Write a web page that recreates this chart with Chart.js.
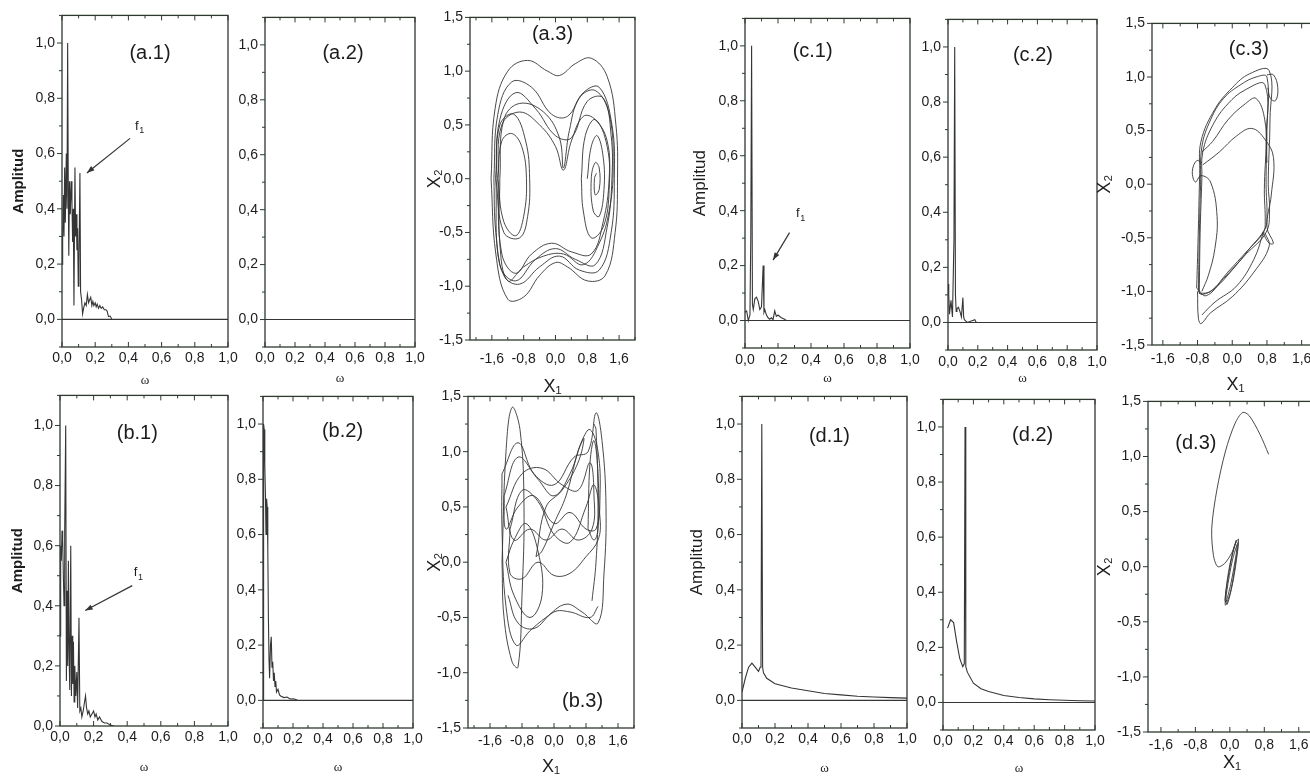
<!DOCTYPE html>
<html>
<head>
<meta charset="utf-8">
<script src="https://cdn.jsdelivr.net/npm/chart.js@4.4.0/dist/chart.umd.min.js"></script>
<style>
  body { margin: 0; background: #fff; width: 1310px; height: 780px; overflow: hidden; position: relative; }
  canvas { position: absolute; }
</style>
</head>
<body>
<script>
// ---- tick labels ----
const omegaTicks = [0, 0.2, 0.4, 0.6, 0.8, 1.0];
const amplitudeTicks = [0, 0.2, 0.4, 0.6, 0.8, 1.0];
const x1Ticks = [-1.6, -0.8, 0, 0.8, 1.6];
const x2Ticks = [-1.5, -1.0, -0.5, 0, 0.5, 1.0, 1.5];

// ---- spectra: [omega, amplitude] ----
const zeroLine = [[0, 0], [1, 0]];
const a1Spectrum = [[0,0.2],[0.004,0.3],[0.008,0.45],[0.012,0.3],[0.016,0.55],[0.02,0.35],[0.026,0.6],[0.03,0.4],
  [0.034,1.0],[0.038,0.45],[0.041,0.23],[0.045,0.5],[0.05,0.38],[0.055,0.5],[0.06,0.42],[0.064,0.28],[0.068,0.4],
  [0.072,0.05],[0.078,0.55],[0.082,0.3],[0.086,0.38],[0.09,0.25],[0.094,0.33],[0.098,0.12],[0.102,0.2],[0.108,0.53],
  [0.112,0.1],[0.118,0.07],[0.124,0.02],[0.13,0.04],[0.138,0.06],[0.146,0.05],[0.153,0.09],[0.16,0.06],[0.166,0.07],
  [0.173,0.08],[0.18,0.05],[0.186,0.065],[0.192,0.05],[0.2,0.06],[0.206,0.045],[0.212,0.055],[0.22,0.04],[0.228,0.05],
  [0.236,0.04],[0.245,0.045],[0.255,0.035],[0.265,0.035],[0.272,0.03],[0.28,0.01],[0.29,0.012],[0.3,0]];
const b1Spectrum = [[0,0.3],[0.004,0.6],[0.008,0.55],[0.012,0.65],[0.016,0.62],[0.02,0.5],[0.024,0.4],[0.028,0.65],
  [0.034,1.0],[0.038,0.15],[0.042,0.45],[0.046,0.2],[0.05,0.55],[0.054,0.25],[0.058,0.12],[0.064,0.6],[0.068,0.1],
  [0.072,0.3],[0.076,0.14],[0.08,0.28],[0.084,0.08],[0.088,0.2],[0.094,0.1],[0.1,0.18],[0.105,0.06],[0.113,0.36],
  [0.118,0.05],[0.124,0.06],[0.13,0.03],[0.138,0.05],[0.146,0.08],[0.152,0.1],[0.158,0.06],[0.165,0.04],[0.172,0.05],
  [0.18,0.03],[0.19,0.04],[0.2,0.05],[0.208,0.03],[0.215,0.04],[0.225,0.02],[0.235,0.03],[0.25,0.015],[0.265,0.01],
  [0.28,0.01],[0.3,0.003],[0.32,0]];
const b2Spectrum = [[0,0],[0.004,1.0],[0.008,0.98],[0.012,0.85],[0.016,0.75],[0.02,0.6],[0.024,0.73],[0.028,0.7],
  [0.032,0.55],[0.036,0.3],[0.04,0.15],[0.044,0.08],[0.05,0.2],[0.055,0.23],[0.06,0.12],[0.065,0.14],[0.07,0.07],
  [0.075,0.1],[0.08,0.05],[0.085,0.07],[0.09,0.03],[0.1,0.04],[0.11,0.02],[0.12,0.015],[0.14,0.01],[0.16,0.012],
  [0.18,0.005],[0.2,0.006],[0.22,0.003],[0.23,0]];
const c1Spectrum = [[0,0.03],[0.01,0.035],[0.02,0.0],[0.03,0.02],[0.035,0.3],[0.04,1.0],[0.045,0.06],[0.05,0.04],
  [0.06,0.08],[0.07,0.085],[0.08,0.07],[0.09,0.04],[0.1,0.05],[0.11,0.2],[0.115,0.03],[0.12,0.04],[0.13,0.02],
  [0.14,0.01],[0.15,0.005],[0.16,0.01],[0.17,0.003],[0.18,0.035],[0.19,0.015],[0.2,0.02],[0.22,0.01],[0.24,0.005],[0.25,0]];
const c2Spectrum = [[0,0.14],[0.005,0.1],[0.01,0.03],[0.02,0.08],[0.03,0.02],[0.04,0.3],[0.045,1.0],[0.05,0.1],
  [0.055,0.04],[0.06,0.05],[0.07,0.055],[0.08,0.04],[0.09,0.02],[0.1,0.09],[0.105,0.02],[0.11,0.01],[0.12,0.005],
  [0.13,0],[0.18,0.01],[0.19,0]];
const d1Spectrum = [[0,0.03],[0.02,0.08],[0.04,0.12],[0.06,0.135],[0.08,0.12],[0.1,0.105],[0.11,0.12],[0.115,0.13],
  [0.12,1.0],[0.125,0.12],[0.13,0.1],[0.15,0.08],[0.2,0.06],[0.3,0.045],[0.4,0.035],[0.5,0.025],[0.6,0.02],
  [0.7,0.015],[0.8,0.012],[0.9,0.01],[1.0,0.008]];
const d2Spectrum = [[0.03,0.27],[0.05,0.3],[0.07,0.29],[0.09,0.22],[0.11,0.16],[0.13,0.13],[0.14,0.14],[0.145,1.0],
  [0.15,0.13],[0.16,0.11],[0.2,0.07],[0.25,0.05],[0.3,0.04],[0.4,0.025],[0.5,0.018],[0.6,0.013],[0.7,0.01],
  [0.8,0.008],[0.9,0.006],[1.0,0.005]];

// ---- phase portraits: loops of [x1, x2] ----
const a3Loops = [
  [[-1.62,0],[-1.52,0.65],[-1.2,1.0],[-0.7,1.1],[-0.2,1.0],[0.1,0.96],[0.5,1.07],[0.9,1.12],[1.3,0.95],[1.52,0.5],[1.56,0],[1.5,-0.5],[1.25,-0.9],[0.8,-0.95],[0.3,-0.82],[0,-0.78],[-0.4,-0.9],[-0.8,-1.1],[-1.2,-1.12],[-1.5,-0.7],[-1.62,0]],
  [[-1.55,0],[-1.45,0.6],[-1.1,0.9],[-0.6,0.85],[-0.1,0.6],[0.3,0.58],[0.7,0.8],[1.1,0.85],[1.42,0.5],[1.48,0],[1.4,-0.5],[1.1,-0.85],[0.6,-0.85],[0.1,-0.72],[-0.4,-0.82],[-0.9,-0.98],[-1.3,-0.9],[-1.5,-0.5],[-1.55,0]],
  [[-1.5,0],[-1.4,0.55],[-1.0,0.8],[-0.5,0.65],[0,0.4],[0.4,0.38],[0.8,0.72],[1.2,0.75],[1.4,0.4],[1.42,0],[1.3,-0.45],[1.0,-0.8],[0.5,-0.75],[0,-0.65],[-0.5,-0.75],[-1.0,-0.95],[-1.4,-0.8],[-1.5,0]],
  [[-1.45,0],[-1.35,0.5],[-0.9,0.62],[-0.4,0.5],[0,0.3],[0.2,0.08],[0.4,0.35],[0.7,0.58],[1.0,0.55],[1.3,0.35],[1.35,0],[1.2,-0.4],[0.9,-0.7],[0.4,-0.68],[-0.1,-0.6],[-0.6,-0.7],[-1.0,-0.88],[-1.35,-0.7],[-1.45,0]],
  [[-1.4,0],[-1.3,0.55],[-0.9,0.7],[-0.3,0.62],[0.1,0.38],[0.2,0.1],[0.35,0.45],[0.6,0.75],[1.0,0.82],[1.35,0.6],[1.45,0.1],[1.35,-0.3],[1.1,-0.6],[0.7,-0.8],[0.2,-0.7],[-0.3,-0.72],[-0.8,-0.82],[-1.2,-0.95],[-1.4,-0.6],[-1.4,0]],
  [[-1.45,0],[-1.35,0.35],[-1.1,0.42],[-0.85,0.3],[-0.73,0],[-0.8,-0.35],[-1.0,-0.53],[-1.3,-0.4],[-1.45,0]],
  [[-1.5,0],[-1.4,0.5],[-1.05,0.6],[-0.75,0.35],[-0.65,0],[-0.7,-0.35],[-0.9,-0.55],[-1.3,-0.5],[-1.5,0]],
  [[0.8,0],[0.9,0.3],[1.05,0.4],[1.2,0.2],[1.22,-0.1],[1.1,-0.35],[0.95,-0.3],[0.9,0],[1.0,0.15],[1.1,0.1],[1.1,-0.1],[1.0,-0.15],[0.98,0],[1.03,0.05]],
  [[0.65,0],[0.75,0.4],[1.0,0.55],[1.3,0.3],[1.35,-0.1],[1.2,-0.45],[0.9,-0.55],[0.7,-0.3],[0.65,0]]
];
const b3Loops = [
  [[-1.3,0],[-1.2,1.0],[-1.05,1.4],[-0.85,1.2],[-0.75,0.5],[-0.8,-0.3],[-0.9,-0.95],[-1.05,-0.9],[-1.25,-0.5],[-1.3,0]],
  [[-1.3,0.8],[-0.9,1.08],[-0.5,0.8],[0,0.7],[0.5,0.95],[0.85,1.0],[1.05,1.35],[1.2,1.1],[1.3,0.5],[1.25,-0.1],[1.1,-0.55],[0.7,-0.45],[0.3,-0.38],[-0.2,-0.5],[-0.6,-0.62],[-0.95,-0.75],[-1.2,-0.4],[-1.3,0.3],[-1.3,0.8]],
  [[-1.25,0.6],[-0.9,0.95],[-0.4,0.75],[0,0.6],[0.4,0.8],[0.7,1.1],[0.9,1.2],[1.1,1.0],[1.15,0.6],[1.05,0.3],[0.8,0.3],[0.4,0.45],[0,0.35],[-0.5,0.6],[-0.9,0.5],[-1.2,0.3],[-1.25,0.6]],
  [[-1.2,0.5],[-0.8,0.8],[-0.3,0.85],[0.2,0.7],[0.6,0.65],[0.9,0.9],[1.0,0.6],[0.95,0.3],[0.6,0.2],[0.2,0.3],[-0.2,0.2],[-0.6,0.3],[-1.0,0.2],[-1.2,0.5]],
  [[-1.1,0.3],[-0.8,0.65],[-0.4,0.55],[0,0.25],[0.4,0.18],[0.8,0.5],[1.0,0.7],[1.15,0.4],[1.1,0.2],[0.8,0.05],[0.4,-0.1],[0,-0.12],[-0.4,0],[-0.8,-0.15],[-1.1,-0.1],[-1.1,0.3]],
  [[-1.2,0],[-1.0,-0.3],[-0.6,-0.5],[-0.3,-0.3],[-0.4,0.1],[-0.7,0.35],[-1.0,0.2],[-1.2,0]],
  [[-0.45,0.05],[-0.2,0.5],[0.2,0.65],[0.6,0.9],[0.75,1.12],[0.6,1.0],[0.3,0.6],[0,0.35],[-0.3,0.1],[-0.45,0.05]],
  [[0.85,0.3],[0.9,0.9],[1.0,1.1],[1.1,0.8],[1.1,0.3],[1.0,0.2],[0.85,0.3]],
  [[0.95,-0.35],[1.05,0],[1.1,0.5],[1.05,1.2],[1.0,1.25]],
  [[-1.15,-0.3],[-0.9,-0.55],[-0.5,-0.6],[0,-0.45],[0.4,-0.45],[0.9,-0.5],[1.1,-0.4]]
];
const c3Loops = [
  [[-0.78,-1.0],[-0.76,-0.5],[-0.73,0],[-0.7,0.35],[-0.5,0.6],[-0.2,0.8],[0.2,0.93],[0.55,1.0],[0.8,1.0],[0.8,0.5],[0.78,0],[0.8,-0.3],[0.75,-0.42],[0.4,-0.6],[0,-0.8],[-0.4,-0.97],[-0.7,-1.03],[-0.78,-1.0]],
  [[-0.82,-0.97],[-0.78,-0.4],[-0.75,0.1],[-0.72,0.4],[-0.4,0.7],[0,0.9],[0.4,1.03],[0.85,1.06],[0.87,0.6],[0.83,0],[0.86,-0.25],[0.78,-0.45],[0.3,-0.66],[-0.2,-0.88],[-0.6,-1.04],[-0.82,-0.97]],
  [[-0.76,-1.02],[-0.74,-0.45],[-0.7,0.05],[-0.68,0.3],[-0.45,0.55],[-0.1,0.75],[0.3,0.88],[0.75,0.93],[0.78,0.4],[0.74,-0.05],[0.76,-0.35],[0.72,-0.45],[0.35,-0.62],[-0.1,-0.82],[-0.5,-1.0],[-0.76,-1.02]],
  [[-0.7,0.3],[-0.45,0.4],[-0.1,0.6],[0.3,0.75],[0.55,0.8],[0.75,0.6],[0.8,0.2]],
  [[-0.68,0.18],[-0.3,0.3],[0.1,0.45],[0.45,0.52],[0.75,0.42],[0.95,0.25],[0.9,-0.1],[0.8,-0.4],[0.95,-0.55],[0.85,-0.55],[0.7,-0.45]],
  [[-0.7,0.2],[-0.82,0.22],[-0.92,0.12],[-0.85,0.02],[-0.72,0.08],[-0.5,0.02],[-0.35,-0.3],[-0.4,-0.6],[-0.55,-0.85],[-0.7,-1.0]],
  [[-0.8,-1.0],[-0.78,-1.25],[-0.72,-1.3],[-0.5,-1.2],[0,-1.05],[0.5,-0.82],[0.85,-0.58],[0.75,-0.45]],
  [[-0.7,-1.22],[-0.4,-1.1],[0.1,-0.95],[0.5,-0.7],[0.72,-0.45]],
  [[0.8,1.02],[0.95,1.02],[1.05,0.9],[1.0,0.78],[0.88,0.8],[0.82,0.9]]
];
const d3Loops = [
  [[0.9,1.02],[0.7,1.2],[0.45,1.37],[0.3,1.4],[0.12,1.3],[-0.1,1.05],[-0.3,0.7],[-0.42,0.35],[-0.38,0.1],[-0.28,0],[-0.12,0.03],[0.05,0.13],[0.15,0.24]],
  [[0.15,0.24],[0.0,0.02],[-0.1,-0.25],[-0.1,-0.35],[0.02,-0.22],[0.14,0.06],[0.2,0.25],[0.1,0.18],[-0.04,-0.1],[-0.11,-0.3],[-0.06,-0.34],[0.08,-0.12],[0.18,0.14],[0.19,0.22],[0.06,0.06],[-0.07,-0.22],[-0.09,-0.32],[0.02,-0.16],[0.15,0.12],[0.17,0.2]]
];

// ---- look ----
const FRAME = '#2f392f';
const LINE = '#353535';
const TEXT = '#1c1c1c';
const SANS = '"Liberation Sans", Arial, sans-serif';
const SERIF = '"Liberation Serif", "Times New Roman", serif';
Chart.defaults.font.family = SANS;

const fmt = v => (Math.abs(v) < 1e-9 ? 0 : v).toFixed(1).replace('.', ',');

function tickMarks(majors, lo, hi) {
  const half = (majors[1] - majors[0]) / 2;
  const out = [];
  for (let k = -12; k <= 40; k++) {
    const v = majors[0] + k * half;
    if (v >= lo - 1e-6 && v <= hi + 1e-6) out.push({ v, major: k % 2 === 0 });
  }
  return out;
}

// frame, inward/outward ticks, panel label and f1 arrows
const decor = {
  id: 'decor',
  afterDraw(chart, args, opts) {
    const p = opts.panel;
    const { ctx, chartArea: a, scales: { x, y } } = chart;
    ctx.save();
    ctx.strokeStyle = FRAME;
    ctx.lineWidth = 1.3;
    ctx.strokeRect(a.left, a.top, a.right - a.left, a.bottom - a.top);
    ctx.lineWidth = 1;
    ctx.beginPath();
    tickMarks(p.xTicks, p.xr[0], p.xr[1]).forEach(t => {
      const px = x.getPixelForValue(t.v), len = t.major ? 5 : 3;
      ctx.moveTo(px, a.bottom); ctx.lineTo(px, a.bottom - len);
      ctx.moveTo(px, a.top); ctx.lineTo(px, a.top + len);
    });
    tickMarks(p.yTicks, p.yr[0], p.yr[1]).forEach(t => {
      const py = y.getPixelForValue(t.v), len = t.major ? 5 : 3;
      ctx.moveTo(a.left, py); ctx.lineTo(a.left - len, py);
    });
    ctx.stroke();

    ctx.fillStyle = TEXT;
    ctx.textAlign = 'center';
    ctx.textBaseline = 'middle';
    ctx.font = '20px ' + SANS;
    ctx.fillText(p.name, a.left + p.labelAt[0] * (a.right - a.left), a.top + p.labelAt[1] * (a.bottom - a.top));

    if (p.arrow) {
      const tx = x.getPixelForValue(p.arrow.tail[0]), ty = y.getPixelForValue(p.arrow.tail[1]);
      const hx = x.getPixelForValue(p.arrow.tip[0]), hy = y.getPixelForValue(p.arrow.tip[1]);
      const ang = Math.atan2(hy - ty, hx - tx);
      ctx.strokeStyle = LINE;
      ctx.lineWidth = 1.2;
      ctx.beginPath(); ctx.moveTo(tx, ty); ctx.lineTo(hx, hy); ctx.stroke();
      ctx.beginPath();
      ctx.moveTo(hx, hy);
      ctx.lineTo(hx - 8 * Math.cos(ang - 0.35), hy - 8 * Math.sin(ang - 0.35));
      ctx.lineTo(hx - 8 * Math.cos(ang + 0.35), hy - 8 * Math.sin(ang + 0.35));
      ctx.closePath(); ctx.fillStyle = LINE; ctx.fill();
      const lx = x.getPixelForValue(p.arrow.text[0]), ly = y.getPixelForValue(p.arrow.text[1]);
      ctx.fillStyle = TEXT;
      ctx.font = '13px ' + SANS;
      ctx.fillText('f', lx, ly);
      ctx.font = '9px ' + SANS;
      ctx.fillText('1', lx + 5, ly + 5);
    }
    ctx.restore();
  }
};

const spec = { xr: [0, 1], yr: [-0.1, 1.1], xTicks: omegaTicks, yTicks: amplitudeTicks, xTitle: 'ω', xFont: { family: SERIF, size: 13 }, tension: 0, width: 1.1, xPad: 3 };
const phase = { xr: [-2.15, 2.0], yr: [-1.5, 1.5], xTicks: x1Ticks, yTicks: x2Ticks, xTitle: 'X₁', xFont: { size: 18 }, tension: 0.4, width: 0.9 };
const ampAB = { yTitle: 'Amplitud', yFont: { size: 15, weight: 'bold' } };
const ampCD = { yTitle: 'Amplitud', yFont: { size: 17 } };
const x2Title = { yTitle: 'X₂', yFont: { size: 18 } };

const panels = [
  { ...spec, ...ampAB, name: '(a.1)', box: [62, 14, 228, 347], lines: [a1Spectrum, zeroLine], labelAt: [0.53, 0.114], yDist: 43, xDist: 33,
    arrow: { tail: [0.41, 0.655], tip: [0.15, 0.53], text: [0.45, 0.7] } },
  { ...spec, name: '(a.2)', box: [265, 16, 415, 347], lines: [zeroLine], labelAt: [0.52, 0.109], xDist: 31 },
  { ...phase, ...x2Title, name: '(a.3)', box: [470, 16, 635, 340], lines: a3Loops, labelAt: [0.5, 0.052], yDist: 35, xDist: 47, xPad: 11 },
  { ...spec, ...ampAB, name: '(b.1)', box: [60, 394, 228, 726], yr: [0, 1.1], lines: [b1Spectrum], labelAt: [0.46, 0.114], yDist: 42, xDist: 41,
    arrow: { tail: [0.43, 0.467], tip: [0.15, 0.384], text: [0.45, 0.51] } },
  { ...spec, name: '(b.2)', box: [263, 395, 413, 728], lines: [b2Spectrum, zeroLine], labelAt: [0.53, 0.105], xDist: 39 },
  { ...phase, ...x2Title, name: '(b.3)', box: [468, 395, 634, 728], lines: b3Loops, labelAt: [0.69, 0.92], yDist: 33, xDist: 39, xPad: 5 },
  { ...spec, ...ampCD, name: '(c.1)', box: [745, 17, 910, 348], lines: [c1Spectrum, zeroLine], labelAt: [0.41, 0.1], yDist: 45, xDist: 30, xPad: 4,
    arrow: { tail: [0.27, 0.32], tip: [0.17, 0.22], text: [0.32, 0.39] } },
  { ...spec, name: '(c.2)', box: [948, 18, 1097, 350], lines: [c2Spectrum, zeroLine], labelAt: [0.57, 0.11], xDist: 28, xPad: 4 },
  { ...phase, ...x2Title, name: '(c.3)', box: [1152, 22, 1319, 345], xr: [-1.85, 2.0], lines: c3Loops, labelAt: [0.58, 0.08], yDist: 47, xDist: 40, xPad: 6 },
  { ...spec, ...ampCD, name: '(d.1)', box: [742, 395, 907, 728], lines: [d1Spectrum, zeroLine], labelAt: [0.53, 0.12], yDist: 45, xDist: 40 },
  { ...spec, name: '(d.2)', box: [943, 398, 1095, 730], lines: [d2Spectrum, zeroLine], labelAt: [0.59, 0.11], xDist: 38 },
  { ...phase, ...x2Title, name: '(d.3)', box: [1148, 400, 1316, 732], xr: [-1.9, 2.0], lines: d3Loops, labelAt: [0.285, 0.127], yDist: 43, xDist: 31, xPad: 5, tension: 0.3 }
];

panels.forEach(p => {
  const plotW = p.box[2] - p.box[0], plotH = p.box[3] - p.box[1];
  const padTop = 14, padRight = 18;
  const boxW = p.yTitle ? Math.round(p.yDist + p.yFont.size * 0.6) : 52;
  const boxH = Math.round(p.xDist + p.xFont.size * 0.6);
  const canvas = document.createElement('canvas');
  canvas.width = boxW + plotW + padRight;
  canvas.height = padTop + plotH + boxH;
  canvas.style.left = (p.box[0] - boxW) + 'px';
  canvas.style.top = (p.box[1] - padTop) + 'px';
  document.body.appendChild(canvas);

  new Chart(canvas, {
    type: 'scatter',
    data: {
      datasets: p.lines.map(line => ({
        data: line.map(([x, y]) => ({ x, y })),
        showLine: true,
        borderColor: LINE,
        borderWidth: p.width,
        pointRadius: 0,
        tension: p.tension,
        fill: false
      }))
    },
    options: {
      responsive: false,
      animation: false,
      events: [],
      layout: { padding: { top: padTop, right: padRight, left: 0, bottom: 0 } },
      plugins: { legend: { display: false }, tooltip: { enabled: false }, decor: { panel: p } },
      scales: {
        x: {
          type: 'linear', min: p.xr[0], max: p.xr[1],
          grid: { display: false, drawTicks: false }, border: { display: false },
          afterBuildTicks: s => { s.ticks = p.xTicks.map(v => ({ value: v })); },
          afterFit: s => { s.height = boxH; },
          ticks: { callback: v => fmt(v), padding: p.xPad, color: TEXT, font: { size: 14 }, maxRotation: 0, autoSkip: false },
          title: { display: true, text: p.xTitle, color: TEXT, font: p.xFont, padding: 0 }
        },
        y: {
          type: 'linear', min: p.yr[0], max: p.yr[1],
          grid: { display: false, drawTicks: false }, border: { display: false },
          afterBuildTicks: s => { s.ticks = p.yTicks.map(v => ({ value: v })); },
          afterFit: s => { s.width = boxW; },
          ticks: { callback: v => fmt(v), padding: 7, color: TEXT, font: { size: 14 }, autoSkip: false },
          title: { display: !!p.yTitle, text: p.yTitle || '', color: TEXT, font: p.yFont || {}, padding: 0 }
        }
      }
    },
    plugins: [decor]
  });
});
</script>
</body>
</html>
